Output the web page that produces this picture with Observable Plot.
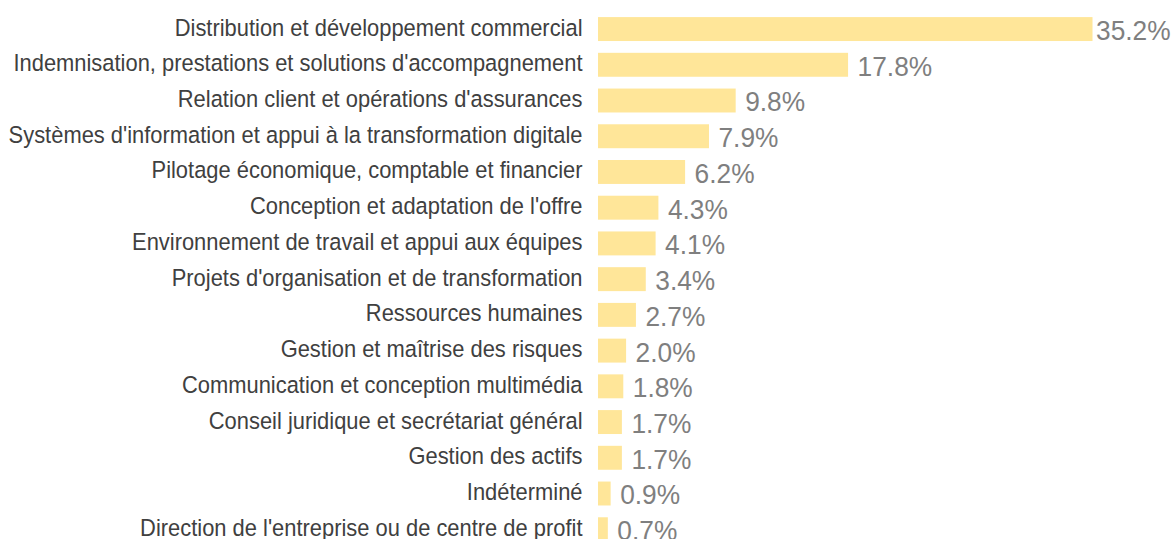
<!DOCTYPE html>
<html>
<head>
<meta charset="utf-8">
<script src="https://cdn.jsdelivr.net/npm/d3@7"></script>
<script src="https://cdn.jsdelivr.net/npm/@observablehq/plot@0.6"></script>
<style>
  html, body { margin: 0; padding: 0; background: #fff; overflow: hidden; }
</style>
</head>
<body>
<div id="chart"></div>
<script>
const categories = [
  "Distribution et développement commercial",
  "Indemnisation, prestations et solutions d'accompagnement",
  "Relation client et opérations d'assurances",
  "Systèmes d'information et appui à la transformation digitale",
  "Pilotage économique, comptable et financier",
  "Conception et adaptation de l'offre",
  "Environnement de travail et appui aux équipes",
  "Projets d'organisation et de transformation",
  "Ressources humaines",
  "Gestion et maîtrise des risques",
  "Communication et conception multimédia",
  "Conseil juridique et secrétariat général",
  "Gestion des actifs",
  "Indéterminé",
  "Direction de l'entreprise ou de centre de profit"
];
const values = [35.2, 17.8, 9.8, 7.9, 6.2, 4.3, 4.1, 3.4, 2.7, 2.0, 1.8, 1.7, 1.7, 0.9, 0.7];

const data = categories.map((c, i) => ({category: c, value: values[i], rank: i}));
const label = d => d.value.toFixed(1) + "%";

const chart = Plot.plot({
  width: 1174,
  height: 553,
  marginLeft: 598,
  marginRight: 0,
  marginTop: 5.3,
  marginBottom: 0,
  x: {domain: [0, 41], axis: null},
  y: {domain: categories, padding: 0.33, round: false, axis: null},
  style: {fontFamily: "'Liberation Sans', Arial, sans-serif", background: "#fff", overflow: "visible"},
  marks: [
    Plot.barX(data, {x: "value", y: "category", fill: "#FFE699"}),
    Plot.axisY({tickSize: 0, tickPadding: 16, fontSize: 23.3, fill: "#404040", dy: -1.5, label: null}),
    // the longest bar's label is nudged closer so it fits in the frame
    Plot.text(data.filter(d => d.rank === 0), {
      x: "value", y: "category", text: label,
      textAnchor: "start", dx: 3, dy: 1.5,
      fontSize: 28, fill: "#7f7f7f"
    }),
    Plot.text(data.filter(d => d.rank > 0), {
      x: "value", y: "category", text: label,
      textAnchor: "start", dx: 9, dy: 1.5,
      fontSize: 28, fill: "#7f7f7f"
    })
  ]
});

// condense text horizontally (reference glyphs are narrower than regular Arial)
chart.querySelectorAll("text").forEach(t => {
  const tr = t.getAttribute("transform");
  if (tr) {
    t.setAttribute("transform", tr + " scale(0.94,1)");
  } else {
    const x = +(t.getAttribute("x") || 0);
    t.setAttribute("transform", `translate(${x},0) scale(0.94,1) translate(${-x},0)`);
  }
});

document.getElementById("chart").appendChild(chart);
</script>
</body>
</html>
